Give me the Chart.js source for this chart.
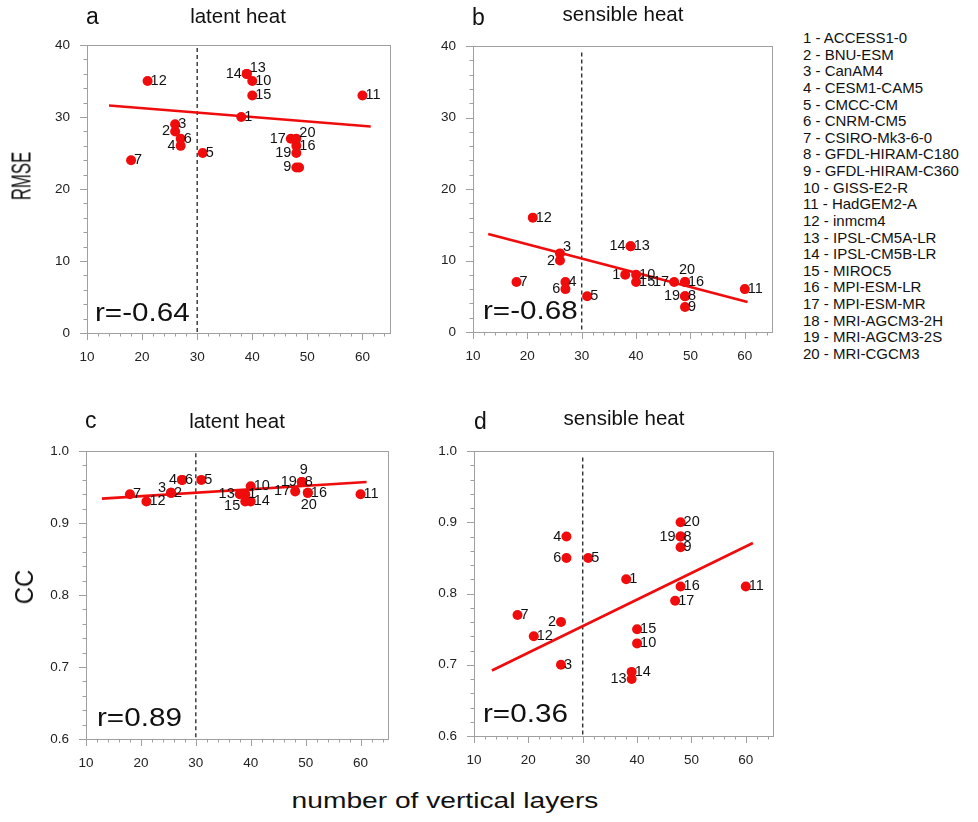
<!DOCTYPE html>
<html>
<head>
<meta charset="utf-8">
<script src="https://cdn.jsdelivr.net/npm/chart.js@4/dist/chart.umd.min.js"></script>
<style>
  body { margin: 0; width: 978px; height: 822px; background: #fff; position: relative; overflow: hidden;
         font-family: 'Liberation Sans', Arial, sans-serif; color: #111; }
  canvas { position: absolute; }
  .t { position: absolute; white-space: nowrap; line-height: 1; }
  #legend { position: absolute; left: 803px; top: 30px; font-size: 15px; line-height: 16.63px; color: #111; }
</style>
</head>
<body>

<canvas id="pa" width="380" height="353" style="left:30px;top:20px"></canvas>
<canvas id="pb" width="376" height="351" style="left:416px;top:21px"></canvas>
<canvas id="pc" width="379" height="353" style="left:29px;top:426px"></canvas>
<canvas id="pd" width="376" height="350" style="left:417px;top:426px"></canvas>

<div class="t" style="left:86px;top:5px;font-size:23px">a</div>
<div class="t" style="left:472px;top:6px;font-size:23px">b</div>
<div class="t" style="left:85px;top:409px;font-size:23px">c</div>
<div class="t" style="left:474px;top:410px;font-size:23px">d</div>

<div class="t" style="left:238px;top:6px;font-size:20.5px;transform:translateX(-50%)">latent heat</div>
<div class="t" style="left:623px;top:4px;font-size:20.5px;transform:translateX(-50%)">sensible heat</div>
<div class="t" style="left:237px;top:411px;font-size:20.5px;transform:translateX(-50%)">latent heat</div>
<div class="t" style="left:624px;top:408px;font-size:20.5px;transform:translateX(-50%)">sensible heat</div>

<div class="t" style="left:95px;top:299px;font-size:26px;transform:scaleX(1.14);transform-origin:0 0">r=-0.64</div>
<div class="t" style="left:483px;top:297px;font-size:26px;transform:scaleX(1.14);transform-origin:0 0">r=-0.68</div>
<div class="t" style="left:97px;top:704px;font-size:26px;transform:scaleX(1.14);transform-origin:0 0">r=0.89</div>
<div class="t" style="left:483px;top:700px;font-size:26px;transform:scaleX(1.14);transform-origin:0 0">r=0.36</div>

<div class="t" style="left:22px;top:176px;font-size:27px;transform:translate(-50%,-50%) rotate(-90deg) scaleX(0.62)">RMSE</div>
<div class="t" style="left:24px;top:587px;font-size:26px;transform:translate(-50%,-50%) rotate(-90deg) scaleX(0.92)">CC</div>
<div class="t" style="left:445px;top:790px;font-size:22px;transform:translateX(-50%) scaleX(1.28)">number of vertical layers</div>

<div id="legend"></div>

<script>
// model list (id - name)
const modelIds = [1, 2, 3, 4, 5, 6, 7, 8, 9, 10, 11, 12, 13, 14, 15, 16, 17, 18, 19, 20];
const modelNames = ['ACCESS1-0', 'BNU-ESM', 'CanAM4', 'CESM1-CAM5', 'CMCC-CM', 'CNRM-CM5',
  'CSIRO-Mk3-6-0', 'GFDL-HIRAM-C180', 'GFDL-HIRAM-C360', 'GISS-E2-R', 'HadGEM2-A', 'inmcm4',
  'IPSL-CM5A-LR', 'IPSL-CM5B-LR', 'MIROC5', 'MPI-ESM-LR', 'MPI-ESM-MR', 'MRI-AGCM3-2H',
  'MRI-AGCM3-2S', 'MRI-CGCM3'];

// a: latent heat RMSE
const layersA = [38, 26, 26, 27, 31, 27, 18, 48.5, 48, 40, 60, 21, 39, 39, 40, 48, 47, null, 48, 48];
const rmseLatent = [30, 28, 29, 26, 25, 27, 24, 23, 23, 35, 33, 35, 36, 36, 33, 26, 27, null, 25, 27];
// b: sensible heat RMSE
const layersB = [38, 26, 26, 27, 31, 27, 18, 49, 49, 40, 60, 21, 39, 39, 40, 49, 47, null, 49, 49];
const rmseSensible = [8, 10, 11, 7, 5, 6, 7, 5, 3.5, 8, 6, 16, 12, 12, 7, 7, 7, null, 5, 7];
// c: latent heat CC
const layersC = [39, 25.5, 25.5, 27.5, 31, 27.5, 18, 49.3, 49.3, 40, 60, 21, 38, 40, 39, 50.4, 48.1, null, 49.3, 50.4];
const ccLatent = [0.94, 0.942, 0.942, 0.96, 0.96, 0.96, 0.94, 0.957, 0.957, 0.951, 0.94, 0.93, 0.94, 0.93, 0.93, 0.942, 0.944, null, 0.957, 0.942];
// d: sensible heat CC
const layersD = [38, 26, 26, 27, 31, 27, 18, 48, 48, 40, 60, 21, 39, 39, 40, 48, 47, null, 48, 48];
const ccSensible = [0.82, 0.76, 0.70, 0.88, 0.85, 0.85, 0.77, 0.88, 0.865, 0.73, 0.81, 0.74, 0.68, 0.69, 0.75, 0.81, 0.79, null, 0.88, 0.90];

// regression line end points [x0, x1], [y0, y1]
const fitXA = [14, 61.5],   fitYA = [31.6, 28.7];
const fitXB = [12.8, 60.5], fitYB = [13.7, 4.2];
const fitXC = [12.9, 61.1], fitYC = [0.934, 0.957];
const fitXD = [13.3, 61.3], fitYD = [0.692, 0.871];

// dashed line at 30 layers, top of dash
const dashX = 30;
const dashTop = [39.6, 39.1, 0.997, 0.991];

// tick labels
const xTicks = [10, 20, 30, 40, 50, 60];
const rmseTicks = [0, 10, 20, 30, 40];
const ccTicks = [0.6, 0.7, 0.8, 0.9, 1.0];

// where each number sits next to its dot
const labelPos = {
  a: ['r','l','r','l','r','r','r','','l','r','r','r','ra','l','r','r','l','','l','ra'],
  b: ['l','l','ra','r','r','l','r','r','r','r','r','r','r','l','r','r','l','','l','a'],
  c: ['r','r','la','l','r','r','r','r','a','r','r','r','l','r','lb','r','l','','l','b'],
  d: ['r','l','r','l','r','l','r','r','r','r','r','r','l','r','r','r','r','','l','r']
};

document.getElementById('legend').innerHTML =
  modelIds.map((id, i) => id + ' - ' + modelNames[i]).join('<br>');

const RED = 'rgb(240, 12, 12)';

const frameTicks = {
  id: 'frameTicks',
  beforeDatasetsDraw(chart, args, opts) {
    const { ctx, chartArea: ca, scales } = chart;
    const x = scales.x, y = scales.y;
    ctx.save();
    ctx.strokeStyle = '#a0a0a0';
    ctx.lineWidth = 1;
    ctx.strokeRect(Math.round(ca.left) + 0.5, Math.round(ca.top) + 0.5,
      Math.round(ca.right - ca.left), Math.round(ca.bottom - ca.top));
    ctx.beginPath();
    for (let i = 0; ; i++) {
      const v = x.min + i * opts.xMinor;
      if (v > x.max + 1e-9) break;
      const px = Math.round(x.getPixelForValue(v)) + 0.5;
      const len = (Math.abs(v / 10 - Math.round(v / 10)) < 1e-6) ? 7 : 3.5;
      ctx.moveTo(px, ca.bottom);
      ctx.lineTo(px, ca.bottom + len);
    }
    for (let i = 0; ; i++) {
      const v = y.min + i * opts.yMinor;
      if (v > y.max + 1e-9) break;
      const py = Math.round(y.getPixelForValue(v)) + 0.5;
      const r = v / opts.yMajor;
      const len = (Math.abs(r - Math.round(r)) < 1e-6) ? 7 : 3.5;
      ctx.moveTo(ca.left, py);
      ctx.lineTo(ca.left - len, py);
    }
    ctx.stroke();
    ctx.restore();
  }
};

const pointLabels = {
  id: 'pointLabels',
  afterDatasetsDraw(chart, args, opts) {
    const { ctx } = chart;
    const meta = chart.getDatasetMeta(0);
    ctx.save();
    ctx.font = '14.5px "Liberation Sans", Arial, sans-serif';
    ctx.fillStyle = '#111';
    ctx.textBaseline = 'middle';
    meta.data.forEach((el, i) => {
      const where = opts.pos[i];
      if (!where || el.skip || isNaN(el.y)) return;
      const txt = String(modelIds[i]);
      let dx = 3, dy = 0, align = 'left';
      if (where === 'l') { dx = -5; align = 'right'; }
      if (where === 'ra') { dy = -6; }
      if (where === 'la') { dx = -5; dy = -5; align = 'right'; }
      if (where === 'lb') { dx = -5; dy = 5; align = 'right'; }
      if (where === 'a') { dx = 2; dy = -12; align = 'center'; }
      if (where === 'b') { dx = 1; dy = 12; align = 'center'; }
      ctx.textAlign = align;
      ctx.fillText(txt, el.x + dx, el.y + dy);
    });
    ctx.restore();
  }
};

function toPoints(xs, ys) {
  return xs.map((v, i) => ({ x: v, y: ys[i] }));
}

function drawPanel(id, xs, ys, fitX, fitY, top, yMin, yMax, yLabels, yMinor, yMajor, pos, fmt) {
  new Chart(document.getElementById(id), {
    type: 'scatter',
    data: {
      datasets: [
        { data: toPoints(xs, ys), pointRadius: 5, pointBackgroundColor: RED,
          pointBorderWidth: 0, showLine: false },
        { data: toPoints(fitX, fitY), showLine: true, borderColor: RED, borderWidth: 2.6, pointRadius: 0 },
        { data: [{ x: dashX, y: top }, { x: dashX, y: yMin }], showLine: true, borderColor: '#222',
          borderWidth: 1.3, borderDash: [4, 3], pointRadius: 0 }
      ]
    },
    options: {
      responsive: false,
      animation: false,
      devicePixelRatio: 1,
      layout: { padding: { top: 12, right: 20, left: 0, bottom: 0 } },
      plugins: {
        legend: { display: false },
        tooltip: { enabled: false },
        frameTicks: { xMinor: 2, yMinor: yMinor, yMajor: yMajor },
        pointLabels: { pos: pos }
      },
      scales: {
        x: {
          type: 'linear', min: 10, max: 65,
          grid: { display: false, drawTicks: false },
          border: { display: false },
          afterBuildTicks: s => { s.ticks = xTicks.map(v => ({ value: v })); },
          afterFit: s => { s.height = 40; },
          ticks: { padding: 16, color: '#222', autoSkip: false, maxRotation: 0,
                   font: { family: 'Liberation Sans', size: 13.5 } }
        },
        y: {
          type: 'linear', min: yMin, max: yMax,
          grid: { display: false, drawTicks: false },
          border: { display: false },
          afterBuildTicks: s => { s.ticks = yLabels.map(v => ({ value: v })); },
          afterFit: s => { s.width = 57; },
          ticks: { padding: 17, color: '#222', autoSkip: false,
                   font: { family: 'Liberation Sans', size: 13.5 }, callback: fmt }
        }
      }
    },
    plugins: [frameTicks, pointLabels]
  });
}

const rmseFmt = v => String(v);
const ccFmt = v => Number(v).toFixed(1);

drawPanel('pa', layersA, rmseLatent, fitXA, fitYA, dashTop[0], 0, 40, rmseTicks, 2, 10, labelPos.a, rmseFmt);
drawPanel('pb', layersB, rmseSensible, fitXB, fitYB, dashTop[1], 0, 40, rmseTicks, 2, 10, labelPos.b, rmseFmt);
drawPanel('pc', layersC, ccLatent, fitXC, fitYC, dashTop[2], 0.6, 1.0, ccTicks, 0.02, 0.1, labelPos.c, ccFmt);
drawPanel('pd', layersD, ccSensible, fitXD, fitYD, dashTop[3], 0.6, 1.0, ccTicks, 0.02, 0.1, labelPos.d, ccFmt);
</script>
</body>
</html>
